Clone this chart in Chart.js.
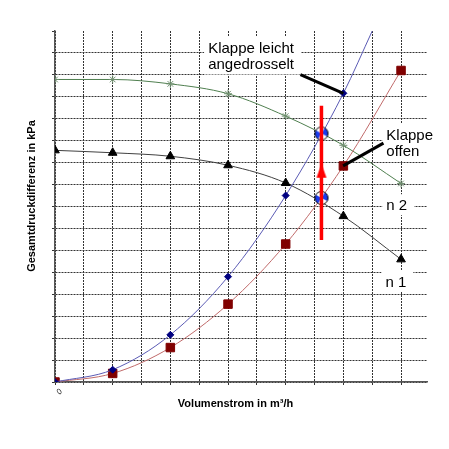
<!DOCTYPE html>
<html lang="de">
<head>
<meta charset="utf-8">
<title>Anlagenkennlinie und Pumpenkennlinie</title>
<script src="https://cdn.jsdelivr.net/npm/chart.js@4.4.1/dist/chart.umd.min.js"></script>
<style>
    html, body { margin: 0; padding: 0; background: #fff; }
    #box { width: 449px; height: 449px; }
</style>
</head>
<body>
<div id="box"><canvas id="kennlinien" width="449" height="449"></canvas></div>
<script>
// Messpunkte (Volumenstrom in Gitterteilungen, Druck in Gitterteilungen)
const flowX = [0, 2, 4, 6, 8, 10, 12];
const drosselX = [0, 2, 4, 6, 8, 10, 11];
const drosselY = [0, 0.56, 2.15, 4.8, 8.5, 13.16, 16.0];
const offenY = [0, 0.39, 1.57, 3.55, 6.29, 9.85, 14.2];
const n2Y = [13.79, 13.79, 13.59, 13.14, 12.12, 10.79, 9.05];
const n1Y = [10.56, 10.45, 10.29, 9.88, 9.07, 7.56, 5.59];

// Betriebspunkte und Ventilhub
const betriebX = [9.24, 9.24];
const betriebY = [11.33, 8.39];
const ventilX = [9.24, 9.24];
const ventilY = [6.47, 12.59];
const pfeilX = [9.24];
const pfeilY = [9.63];

// Hinweislinien zu den Beschriftungen
const zeigerDrosselX = [8.51, 10.0];
const zeigerDrosselY = [14.01, 13.16];
const zeigerOffenX = [11.39, 9.99];
const zeigerOffenY = [10.89, 9.85];

const xTicks = [0];
const xTickLabels = ['0'];

function toPoints(xs, ys) {
    return xs.map((x, i) => ({ x: x, y: ys[i] }));
}

// Kreis-Symbol fuer die Betriebspunkte
function makeBetriebMarker() {
    const c = document.createElement('canvas');
    c.width = 16; c.height = 16;
    const g = c.getContext('2d');
    g.beginPath(); g.arc(8, 8, 6.5, 0, Math.PI * 2);
    g.fillStyle = '#ffffff'; g.fill();
    g.fillStyle = '#1a3cf0';
    [[-1.05, 0.5], [2.1, 3.65]].forEach(([a, b]) => {
        g.beginPath(); g.moveTo(8, 8); g.arc(8, 8, 6.5, a, b); g.closePath(); g.fill();
    });
    g.beginPath(); g.arc(8, 8, 6.5, 0, Math.PI * 2);
    g.strokeStyle = '#000'; g.lineWidth = 1; g.stroke();
    return c;
}

// Schmales Dreieck fuer die Ventilmarke
function makePfeilMarker() {
    const c = document.createElement('canvas');
    c.width = 12; c.height = 16;
    const g = c.getContext('2d');
    g.beginPath(); g.moveTo(6, 1); g.lineTo(11, 15); g.lineTo(1, 15); g.closePath();
    g.fillStyle = '#ff0000'; g.fill();
    return c;
}

const labelFont = '15px "Liberation Sans", Arial, sans-serif';
const titleFont = 'bold 11px "Liberation Sans", Arial, sans-serif';

// Textfelder (Lage in Achseneinheiten)
const textFelder = [
    { x: 5.31, y: 15.0, lines: ['Klappe leicht', 'angedrosselt'] },
    { x: 11.49, y: 11.05, lines: ['Klappe', 'offen'] },
    { x: 11.49, y: 7.83, lines: ['n 2'] },
    { x: 11.46, y: 4.35, lines: ['n 1'] }
];

const beschriftung = {
    id: 'beschriftung',
    beforeDatasetsDraw(chart) {
        const { ctx, scales: { x, y } } = chart;
        ctx.save();
        ctx.font = labelFont;
        textFelder.forEach(f => {
            const px = x.getPixelForValue(f.x);
            const py = y.getPixelForValue(f.y);
            const w = Math.max(...f.lines.map(l => ctx.measureText(l).width));
            const h = (f.lines.length - 1) * 16.5;
            ctx.fillStyle = '#ffffff';
            ctx.fillRect(px - 4, py - 16, w + 11, h + 21);
        });
        ctx.restore();
    },
    afterDatasetsDraw(chart) {
        const { ctx, scales: { x, y } } = chart;
        ctx.save();
        ctx.font = labelFont;
        ctx.fillStyle = '#000';
        ctx.textAlign = 'left';
        ctx.textBaseline = 'alphabetic';
        textFelder.forEach(f => {
            const px = x.getPixelForValue(f.x);
            const py = y.getPixelForValue(f.y);
            f.lines.forEach((l, i) => ctx.fillText(l, px, py + i * 16.5));
        });
        ctx.restore();
    },
    afterDraw(chart) {
        const { ctx, chartArea } = chart;
        ctx.save();
        ctx.font = titleFont;
        ctx.fillStyle = '#000';
        ctx.textAlign = 'center';
        ctx.textBaseline = 'middle';
        ctx.fillText('Volumenstrom in m³/h', chartArea.left + 180.5, chartArea.bottom + 22);
        ctx.translate(32, chartArea.top + 165);
        ctx.rotate(-Math.PI / 2);
        ctx.fillText('Gesamtdruckdifferenz in kPa', 0, 0);
        ctx.restore();
    }
};

const gridDash = [2, 1];

const chart = new Chart(document.getElementById('kennlinien'), {
    type: 'line',
    data: {
        datasets: [
            {
                label: 'Ventil',
                data: toPoints(ventilX, ventilY),
                borderColor: '#ff0000',
                borderWidth: 3.5,
                pointRadius: 0,
                order: 1
            },
            {
                label: 'Ventilmarke',
                data: toPoints(pfeilX, pfeilY),
                showLine: false,
                pointStyle: makePfeilMarker(),
                order: 0
            },
            {
                label: 'Betriebspunkte',
                data: toPoints(betriebX, betriebY),
                showLine: false,
                pointStyle: makeBetriebMarker(),
                order: 2
            },
            {
                label: 'Zeiger angedrosselt',
                data: toPoints(zeigerDrosselX, zeigerDrosselY),
                borderColor: '#000',
                borderWidth: 3,
                pointRadius: 0,
                order: 3
            },
            {
                label: 'Zeiger offen',
                data: toPoints(zeigerOffenX, zeigerOffenY),
                borderColor: '#000',
                borderWidth: 3,
                pointRadius: 0,
                order: 3
            },
            {
                label: 'Klappe leicht angedrosselt',
                data: toPoints(drosselX, drosselY),
                borderColor: '#5a5ab4',
                borderWidth: 1,
                cubicInterpolationMode: 'monotone',
                pointStyle: 'rectRot',
                pointRadius: drosselX.map((v, i) => i < drosselX.length - 1 ? 3.5 : 0),
                pointBackgroundColor: '#000080',
                pointBorderColor: '#000080',
                order: 4
            },
            {
                label: 'Klappe offen',
                data: toPoints(flowX, offenY),
                borderColor: '#c06a6a',
                borderWidth: 1,
                cubicInterpolationMode: 'monotone',
                pointStyle: 'rect',
                pointRadius: 6,
                pointBackgroundColor: '#800000',
                pointBorderColor: '#800000',
                order: 5
            },
            {
                label: 'n 2',
                data: toPoints(flowX, n2Y),
                borderColor: '#4f7f4f',
                borderWidth: 1,
                cubicInterpolationMode: 'monotone',
                pointStyle: 'star',
                pointRadius: 4,
                pointBorderColor: '#6f8f6f',
                pointBorderWidth: 1,
                order: 6
            },
            {
                label: 'n 1',
                data: toPoints(flowX, n1Y),
                borderColor: '#404040',
                borderWidth: 1,
                cubicInterpolationMode: 'monotone',
                pointStyle: 'triangle',
                pointRadius: 5,
                pointBackgroundColor: '#000',
                pointBorderColor: '#000',
                order: 7
            }
        ]
    },
    options: {
        responsive: false,
        animation: false,
        events: [],
        layout: { padding: { left: 0, top: 31, right: 22, bottom: 0 } },
        plugins: {
            legend: { display: false },
            tooltip: { enabled: false }
        },
        scales: {
            x: {
                type: 'linear',
                min: 0,
                max: 12.9,
                afterBuildTicks: scale => {
                    scale.ticks = scale.ticks.filter(t => t.value <= 12);
                },
                afterFit: scale => { scale.height = 67; },
                ticks: {
                    stepSize: 1,
                    minRotation: 50,
                    maxRotation: 50,
                    labelOffset: 6,
                    padding: 2,
                    color: '#222',
                    font: { family: '"Liberation Sans", Arial, sans-serif', size: 8, style: 'italic' },
                    callback: v => {
                        const k = xTicks.indexOf(v);
                        return k >= 0 ? xTickLabels[k] : '';
                    }
                },
                grid: { color: '#333', lineWidth: 1, tickLength: 3, tickColor: '#333' },
                border: { display: true, color: '#555', width: 1.5, dash: gridDash }
            },
            y: {
                type: 'linear',
                min: 0,
                max: 16,
                afterFit: scale => { scale.width = 55; },
                ticks: { stepSize: 1, display: false },
                grid: {
                    color: c => (c.tick && c.tick.value === 16 ? 'rgba(0,0,0,0)' : '#333'),
                    lineWidth: 1,
                    tickLength: 3,
                    tickColor: '#333'
                },
                border: { display: true, color: '#555', width: 1.5, dash: gridDash }
            }
        }
    },
    plugins: [beschriftung]
});
</script>
</body>
</html>
